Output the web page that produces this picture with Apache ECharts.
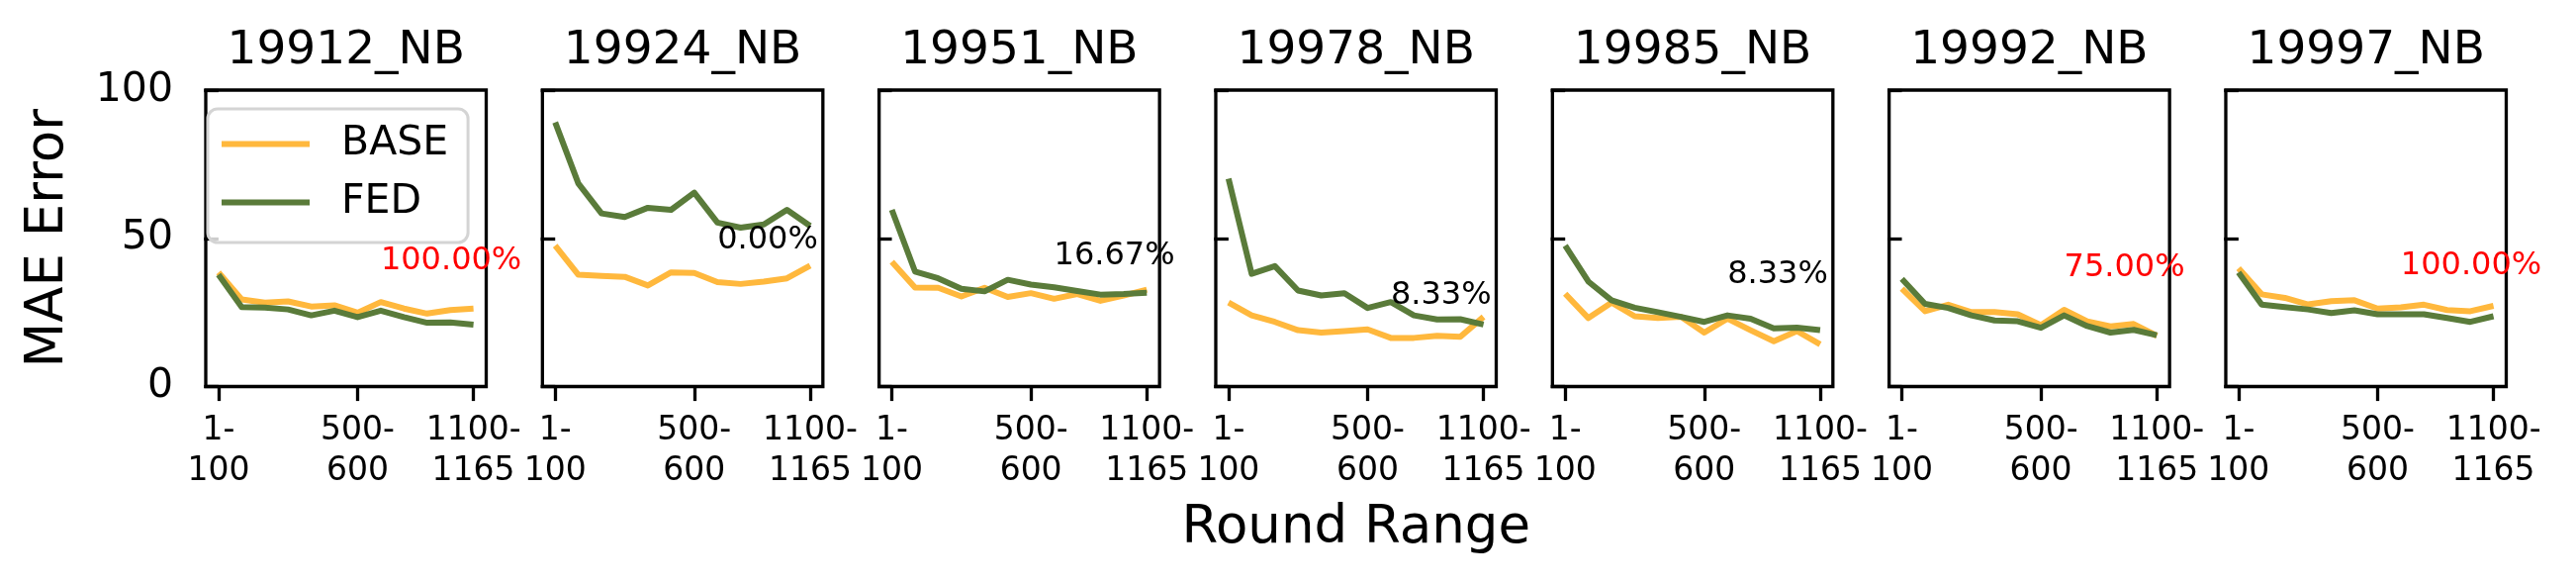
<!DOCTYPE html>
<html>
<head>
<meta charset="UTF-8" />
<title>MAE Error</title>
<script src="https://cdn.jsdelivr.net/npm/echarts@6/dist/echarts.min.js"></script>
<style>
html, body { margin:0; padding:0; background:#fff; }
#main { width:2604px; height:590px; }
</style>
</head>
<body>
<div id="main"></div>
<script>
// 面板名称
var panels = ['19912_NB', '19924_NB', '19951_NB', '19978_NB', '19985_NB', '19992_NB', '19997_NB'];
// x 轴刻度（按轮次窗口序号）
var tickPos = [0, 6, 11];
var tickLabels = ['1-\n100', '500-\n600', '1100-\n1165'];
var yTicks = [0, 50, 100];

// 每个面板 12 个轮次窗口的 MAE
var baseMae = [
  [38.5, 29.4, 28.3, 28.7, 27.0, 27.4, 24.9, 28.5, 26.3, 24.6, 25.8, 26.3],
  [47.5, 37.7, 37.3, 37.0, 34.1, 38.5, 38.3, 35.2, 34.6, 35.4, 36.5, 40.8],
  [42.1, 33.4, 33.3, 30.4, 33.3, 30.2, 31.5, 29.6, 31.2, 28.9, 30.7, 32.7],
  [28.3, 24.0, 21.8, 19.0, 18.2, 18.7, 19.3, 16.4, 16.4, 17.1, 16.8, 23.5],
  [31.3, 23.1, 28.3, 23.7, 23.1, 23.5, 18.2, 22.9, 19.0, 15.3, 18.7, 14.2],
  [33.0, 25.4, 27.6, 25.1, 25.1, 24.4, 20.7, 25.9, 22.0, 20.3, 21.1, 17.1],
  [39.9, 31.1, 29.9, 27.7, 28.8, 29.1, 26.3, 26.7, 27.6, 25.8, 25.4, 27.2]
];
var fedMae = [
  [37.7, 26.8, 26.6, 26.0, 24.0, 25.6, 23.4, 25.6, 23.4, 21.5, 21.6, 20.9],
  [89.1, 68.5, 58.4, 57.2, 60.3, 59.6, 65.4, 55.3, 53.6, 54.7, 59.6, 54.2],
  [59.6, 38.8, 36.5, 33.0, 32.1, 36.0, 34.4, 33.5, 32.2, 31.0, 31.2, 31.6],
  [70.1, 38.0, 40.6, 32.4, 30.7, 31.5, 26.5, 28.5, 24.0, 22.6, 22.7, 20.9],
  [47.5, 35.4, 29.1, 26.6, 25.1, 23.5, 21.8, 24.0, 22.9, 19.6, 19.9, 19.0],
  [36.3, 27.9, 26.5, 24.0, 22.3, 22.0, 19.8, 24.0, 20.4, 18.2, 19.1, 17.3],
  [38.5, 27.6, 26.8, 26.0, 24.8, 25.7, 24.4, 24.4, 24.4, 23.1, 21.8, 23.7]
];

// 标注：FED 优于 BASE 的比例
var rateText = ['100.00%', '0.00%', '16.67%', '8.33%', '8.33%', '75.00%', '100.00%'];
var rateY = [38.3, 45.2, 39.9, 26.6, 33.6, 36.1, 36.6];
var rateX = 7;

var FONT = 'DejaVu Sans';
var BASE_COLOR = '#FFB83D';
var FED_COLOR = '#5A7B3A';

var chart = echarts.init(document.getElementById('main'));

var grids = [], xAxes = [], yAxes = [], titles = [], series = [];
for (var i = 0; i < panels.length; i++) {
  var left = 208 + i * 340.33;
  grids.push({
    left: left, top: 91, width: 283.5, height: 299.5,
    show: true, borderColor: '#000', borderWidth: 3.3, backgroundColor: 'transparent'
  });
  titles.push({
    text: panels[i], left: left + 141.75, top: 28, textAlign: 'center', padding: 0,
    textStyle: { fontFamily: FONT, fontSize: 47, fontWeight: 'normal', color: '#000' }
  });
  xAxes.push({
    gridIndex: i, type: 'value', min: -0.55, max: 11.55,
    splitLine: { show: false },
    axisLine: { show: false },
    axisTick: { show: true, length: 14.6, customValues: tickPos, lineStyle: { color: '#000', width: 3.3 } },
    axisLabel: {
      show: true, customValues: tickPos, margin: 24,
      fontFamily: FONT, fontSize: 33, lineHeight: 41, color: '#000', align: 'center',
      formatter: function (v) { return tickLabels[tickPos.indexOf(Math.round(v))] || ''; }
    },
    name: i === 3 ? 'Round Range' : '',
    nameLocation: 'middle', nameGap: 117,
    nameTextStyle: { fontFamily: FONT, fontSize: 53, color: '#000' }
  });
  yAxes.push({
    gridIndex: i, type: 'value', min: yTicks[0], max: yTicks[yTicks.length - 1], interval: 50,
    splitLine: { show: false },
    axisLine: { show: false },
    axisTick: { show: true, length: 14.6, lineStyle: { color: '#000', width: 3.3 } },
    axisLabel: { show: i === 0, margin: 33, fontFamily: FONT, fontSize: 41, color: '#000' },
    name: i === 0 ? 'MAE Error' : '',
    nameLocation: 'middle', nameRotate: 90, nameGap: 132,
    nameTextStyle: { fontFamily: FONT, fontSize: 53, color: '#000' }
  });
  series.push({
    name: 'BASE', type: 'line', xAxisIndex: i, yAxisIndex: i,
    data: baseMae[i].map(function (v, k) { return [k, v]; }),
    showSymbol: false, symbol: 'none', silent: true,
    lineStyle: { color: BASE_COLOR, width: 6, join: 'round' },
    itemStyle: { color: BASE_COLOR }
  });
  series.push({
    name: 'FED', type: 'line', xAxisIndex: i, yAxisIndex: i,
    data: fedMae[i].map(function (v, k) { return [k, v]; }),
    showSymbol: false, symbol: 'none', silent: true,
    lineStyle: { color: FED_COLOR, width: 6, join: 'round' },
    itemStyle: { color: FED_COLOR },
    markPoint: {
      silent: true, symbol: 'circle', symbolSize: 0,
      data: [{ coord: [rateX, rateY[i]] }],
      label: {
        show: true, position: [0, 0], align: 'left', verticalAlign: 'middle', offset: [0, -12],
        formatter: rateText[i],
        fontFamily: FONT, fontSize: 32,
        color: parseFloat(rateText[i]) >= 50 ? '#ff0000' : '#000'
      }
    }
  });
}

chart.setOption({
  animation: false,
  backgroundColor: '#fff',
  title: titles,
  legend: {
    data: ['BASE', 'FED'],
    orient: 'vertical', left: 210, top: 110,
    icon: 'rect', itemWidth: 89, itemHeight: 6, itemGap: 18,
    padding: [15, 20, 20, 14],
    backgroundColor: 'rgba(255,255,255,0.8)',
    borderColor: '#d4d4d4', borderWidth: 3, borderRadius: 10,
    textStyle: { fontFamily: FONT, fontSize: 41, color: '#000', lineHeight: 41, padding: [0, 0, 0, 27] },
    selectedMode: false
  },
  grid: grids,
  xAxis: xAxes,
  yAxis: yAxes,
  series: series
});
</script>
</body>
</html>
